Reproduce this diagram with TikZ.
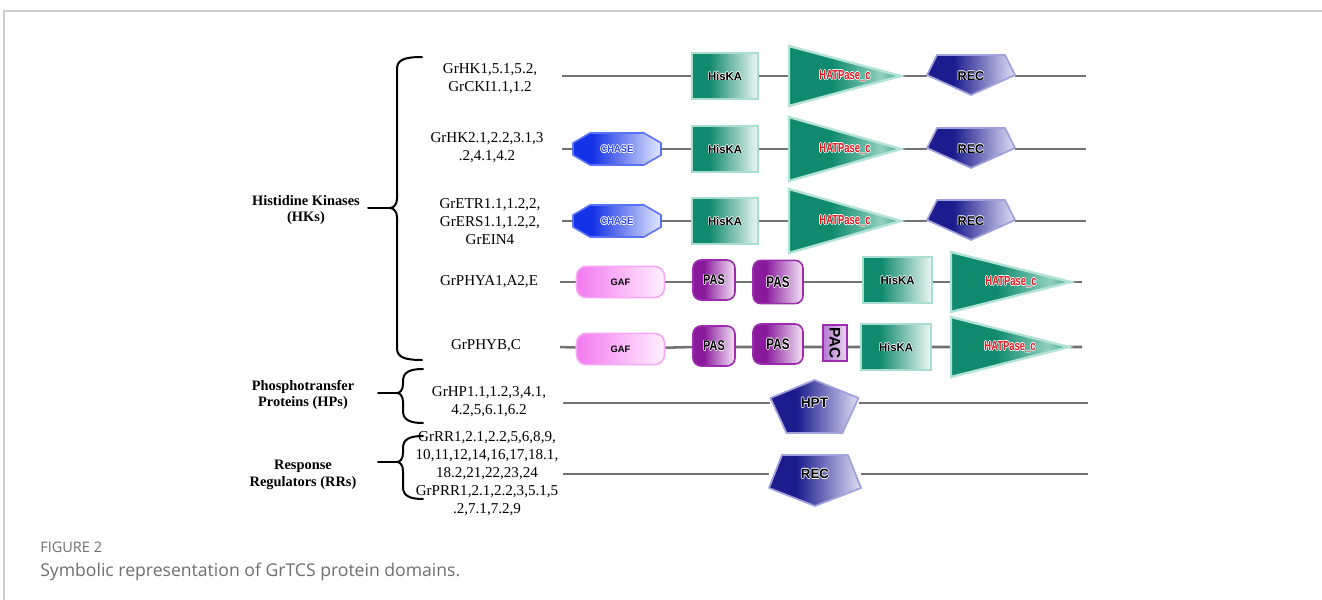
\documentclass[tikz,border=0pt]{standalone}
\usepackage{fontspec}
\setmainfont{Liberation Serif}
\setsansfont{Liberation Sans}
\newfontfamily\capfont{Open Sans}
\usepackage{graphicx}

% domain colours
\definecolor{hkteal}{HTML}{0F8A6E}
\definecolor{hkpale}{HTML}{A8DDCF}
\definecolor{hkwhite}{HTML}{EEF8F5}
\definecolor{hatlight}{HTML}{8FD0BE}
\definecolor{hatmid}{HTML}{4AA88E}
\definecolor{hatpale}{HTML}{B4E2D6}
\definecolor{recnavy}{HTML}{1C1C8E}
\definecolor{reclight}{HTML}{DEDEF5}
\definecolor{recedge}{HTML}{A0A0DA}
\definecolor{chblue}{HTML}{1432E6}
\definecolor{chlight}{HTML}{E4E8FC}
\definecolor{chedge}{HTML}{5B72F2}
\definecolor{chtext}{HTML}{2E46EE}
\definecolor{gafpink}{HTML}{F27AF0}
\definecolor{gaflight}{HTML}{FFF0FF}
\definecolor{gafedge}{HTML}{F6A6F4}
\definecolor{paspurple}{HTML}{8A1A9C}
\definecolor{paslight}{HTML}{F4E6F7}
\definecolor{pasedge}{HTML}{9B2CAE}
\definecolor{pacdark}{HTML}{B57AD0}
\definecolor{paclight}{HTML}{EBD7F2}
\definecolor{hatred}{HTML}{E8141C}
\definecolor{conngray}{HTML}{727272}
\definecolor{framegray}{HTML}{CCCCCC}
\definecolor{capgray}{HTML}{6E6E6E}

% left-to-right gradients (25bp..75bp spans the filled shape)
\pgfdeclarehorizontalshading{hkshade}{100bp}{color(0bp)=(hkteal); color(25bp)=(hkteal); color(38bp)=(hkteal); color(75bp)=(hkwhite); color(100bp)=(hkwhite)}
\pgfdeclarehorizontalshading{hatshade}{100bp}{color(0bp)=(hkteal); color(25bp)=(hkteal); color(44bp)=(hkteal); color(66bp)=(hatlight); color(75bp)=(hatmid); color(100bp)=(hatmid)}
\pgfdeclarehorizontalshading{recshade}{100bp}{color(0bp)=(recnavy); color(25bp)=(recnavy); color(40bp)=(recnavy); color(75bp)=(reclight); color(100bp)=(reclight)}
\pgfdeclarehorizontalshading{chshade}{100bp}{color(0bp)=(chblue); color(25bp)=(chblue); color(36bp)=(chblue); color(75bp)=(chlight); color(100bp)=(chlight)}
\pgfdeclarehorizontalshading{gafshade}{100bp}{color(0bp)=(gafpink); color(25bp)=(gafpink); color(75bp)=(gaflight); color(100bp)=(gaflight)}
\pgfdeclarehorizontalshading{passhade}{100bp}{color(0bp)=(paspurple); color(25bp)=(paspurple); color(38bp)=(paspurple); color(75bp)=(paslight); color(100bp)=(paslight)}
\pgfdeclarehorizontalshading{pacshade}{100bp}{color(0bp)=(pacdark); color(25bp)=(pacdark); color(75bp)=(paclight); color(100bp)=(paclight)}

% text with a thin white outline, as used on the domain labels
\newcommand\halo[1]{%
  \makebox[0pt][l]{\color{white}\hspace{0.55pt}#1}%
  \makebox[0pt][l]{\color{white}\hspace{-0.55pt}#1}%
  \makebox[0pt][l]{\color{white}\raisebox{0.55pt}{#1}}%
  \makebox[0pt][l]{\color{white}\raisebox{-0.55pt}{#1}}%
  #1}

\pgfdeclarelayer{bg}
\pgfsetlayers{bg,main}

\tikzset{
  conn/.style={draw=conngray, line width=1.9pt},
  bracestroke/.style={draw=black, line width=1.5pt, line cap=round},
  prot/.style={align=center, inner sep=0pt, font=\fontsize{11.3}{13.5}\selectfont},
  grp/.style={align=center, inner sep=0pt, font=\bfseries\fontsize{10.8}{12.6}\selectfont},
  dom/.style={inner sep=0pt, font=\sffamily\bfseries},
  hiska/.style={dom, rectangle, shade, shading=hkshade, draw=hkpale, line width=1.3pt,
    minimum width=50pt, minimum height=34pt, font=\sffamily\bfseries\fontsize{8.5}{10}\selectfont},
  gafbox/.style={dom, rectangle, rounded corners=7.5pt, shade, shading=gafshade, draw=gafedge,
    line width=1.2pt, minimum width=66pt, minimum height=23.5pt, font=\sffamily\bfseries\fontsize{7}{8}\selectfont},
  pasbox/.style={dom, rectangle, rounded corners=6pt, shade, shading=passhade, draw=pasedge,
    line width=1.2pt},
  pacbox/.style={dom, rectangle, shade, shading=pacshade, draw=pasedge, line width=1pt,
    minimum width=18pt, minimum height=27pt, font=\sffamily\bfseries\fontsize{11.5}{12}\selectfont},
  labelonly/.style={dom, rectangle},
}

% HATPase_c: triangle pointing right; name, left x, apex x, y, half height
\newcommand\hatpase[5]{%
  \shadedraw[shading=hatshade, draw=hatpale, line width=1.8pt]
    (#2,#4-#5) -- (#3,#4) -- (#2,#4+#5) -- cycle;
  \node[labelonly, minimum width={(#3-#2)*0.75pt}, minimum height={2*#5*0.75pt},
    text=hatred, font=\sffamily\bfseries\fontsize{9.8}{10}\selectfont]
    (#1) at ({(#2+#3)/2},#4) {\halo{\scalebox{0.72}[1]{HATPase\_c}}\hspace{24pt}};}

% REC (rows of the kinases): name, x, y
\newcommand\recsmall[3]{%
  \shadedraw[shading=recshade, draw=recedge, line width=1.3pt, line join=round]
    (#2-34,#3-21) -- (#2+34,#3-21) -- (#2+44,#3-1) -- (#2,#3+19) -- (#2-44,#3-1) -- cycle;
  \node[labelonly, minimum width=66pt, minimum height=30pt,
    font=\sffamily\bfseries\fontsize{9.5}{10}\selectfont] (#1) at (#2,#3) {\raisebox{0.8pt}{\halo{REC}}};}

% REC of the response regulators: name, x, y
\newcommand\recbig[3]{%
  \shadedraw[shading=recshade, draw=recedge, line width=1.3pt, line join=round]
    (#2-33,#3-19) -- (#2+33,#3-19) -- (#2+46,#3+14) -- (#2,#3+32) -- (#2-46,#3+14) -- cycle;
  \node[labelonly, minimum width=69pt, minimum height=38pt,
    font=\sffamily\bfseries\fontsize{10}{10}\selectfont] (#1) at (#2,#3) {\raisebox{-4.5pt}{\halo{REC}}};}

% HPT: pentagon pointing up; name, x, y
\newcommand\hptdom[3]{%
  \shadedraw[shading=recshade, draw=recedge, line width=1.3pt, line join=round]
    (#2,#3-23) -- (#2+44,#3-5) -- (#2+28,#3+30) -- (#2-28,#3+30) -- (#2-44,#3-5) -- cycle;
  \node[labelonly, minimum width=66pt, minimum height=38pt,
    font=\sffamily\bfseries\fontsize{10.3}{10}\selectfont] (#1) at (#2,#3) {\raisebox{-2pt}{\halo{HPT}}};}

% CHASE: elongated octagon; name, x, y
\newcommand\chase[3]{%
  \shadedraw[shading=chshade, draw=chedge, line width=1.2pt, line join=round]
    (#2-44,#3-6) -- (#2-27,#3-16) -- (#2+27,#3-16) -- (#2+44,#3-6) --
    (#2+44,#3+6) -- (#2+27,#3+16) -- (#2-27,#3+16) -- (#2-44,#3+6) -- cycle;
  \node[labelonly, minimum width=66pt, minimum height=24pt, text=chtext,
    font=\sffamily\bfseries\fontsize{7.4}{8}\selectfont] (#1) at (#2,#3) {\halo{\scalebox{0.95}[1]{CHASE}}};}

% curly brace opening to the right: end x, body x, tip x, top, middle, bottom
\newcommand\groupbrace[6]{%
  \draw[bracestroke] (#1,#4) .. controls (#2+7,#4) and (#2,#4+3) .. (#2,#4+12)
    -- (#2,#5-9) .. controls (#2,#5-3) and (#3+3,#5) .. (#3,#5)
    .. controls (#3+3,#5) and (#2,#5+3) .. (#2,#5+9)
    -- (#2,#6-12) .. controls (#2,#6-3) and (#2+7,#6) .. (#1,#6);}

\begin{document}
\begin{tikzpicture}[x=0.75pt, y=-0.75pt]
\useasboundingbox (0,0) rectangle (1322,600);

% frame of the figure panel
\draw[framegray, line width=0.8pt] (4,600) -- (4,11) -- (1322,11);

% ---------- family labels and braces ----------
\node[grp] (ghk) at (306,210) {Histidine Kinases\\(HKs)};
\node[grp] (ghp) at (303,395) {Phosphotransfer\\Proteins (HPs)};
\node[grp] (grr) at (303,475) {Response\\Regulators (RRs)};

\groupbrace{422}{397}{390}{57}{208}{360}
\groupbrace{423}{403}{397}{369}{393}{423}
\groupbrace{423}{403}{397}{436}{462}{499}

\coordinate (hks) at (368,208);  \coordinate (hkt) at (390,208);
\coordinate (hps) at (378,393);  \coordinate (hpt) at (397,393);
\coordinate (rrs) at (378,462);  \coordinate (rrt) at (397,462);
\draw[bracestroke] (hks) -- (hkt);
\draw[bracestroke] (hps) -- (hpt);
\draw[bracestroke] (rrs) -- (rrt);

% ---------- gene names ----------
\node[prot] (n1) at (490,79)  {GrHK1,5.1,5.2,\\GrCKI1.1,1.2};
\node[prot] (n2) at (487,148) {GrHK2.1,2.2,3.1,3\\.2,4.1,4.2};
\node[prot] (n3) at (490,222) {GrETR1.1,1.2,2,\\GrERS1.1,1.2,2,\\GrEIN4};
\node[prot] (n4) at (489,282) {GrPHYA1,A2,E};
\node[prot] (n5) at (486,346) {GrPHYB,C};
\node[prot] (n6) at (489,402) {GrHP1.1,1.2,3,4.1,\\4.2,5,6.1,6.2};
\node[prot] (n7) at (487,474) {GrRR1,2.1,2.2,5,6,8,9,\\10,11,12,14,16,17,18.1,\\18.2,21,22,23,24\\GrPRR1,2.1,2.2,3,5.1,5\\.2,7.1,7.2,9};

% ---------- row 1 ----------
\node[hiska] (hk1) at (725,76) {\halo{HisKA}};
\hatpase{hp1}{789}{901}{76}{30}
\recsmall{rc1}{971}{76}
\coordinate (a1) at (562,76); \coordinate (b1) at (1086,76);

% ---------- row 2 ----------
\chase{ch2}{617}{149}
\node[hiska] (hk2) at (725,149) {\halo{HisKA}};
\hatpase{hp2}{789}{901}{149}{32}
\recsmall{rc2}{971}{149}
\coordinate (a2) at (562,149); \coordinate (b2) at (1086,149);

% ---------- row 3 ----------
\chase{ch3}{617}{221}
\node[hiska] (hk3) at (725,221) {\halo{HisKA}};
\hatpase{hp3}{789}{901}{221}{32}
\recsmall{rc3}{971}{221}
\coordinate (a3) at (562,221); \coordinate (b3) at (1086,221);

% ---------- row 4 ----------
\node[gafbox] (gf4) at (620.5,282) {GAF};
\node[pasbox, minimum width=31.5pt, minimum height=30pt,
  font=\sffamily\bfseries\fontsize{10.5}{11}\selectfont] (pa4) at (714,280) {\halo{\scalebox{0.78}[1]{PAS}}};
\node[pasbox, minimum width=37.5pt, minimum height=32.5pt,
  font=\sffamily\bfseries\fontsize{11.5}{12}\selectfont] (pb4) at (778,282) {\halo{\scalebox{0.76}[1]{PAS}}};
\node[hiska, minimum width=52pt, minimum height=35pt] (hk4) at (897.5,280) {\halo{HisKA}};
\hatpase{hp4}{951}{1071}{282}{30}
\coordinate (a4) at (560,282); \coordinate (b4) at (1082,282);

% ---------- row 5 ----------
\node[gafbox] (gf5) at (620.5,349) {GAF};
\node[pasbox, minimum width=31.5pt, minimum height=30pt,
  font=\sffamily\bfseries\fontsize{10.5}{11}\selectfont] (pa5) at (714,346) {\halo{\scalebox{0.78}[1]{PAS}}};
\node[pasbox, minimum width=37.5pt, minimum height=30pt,
  font=\sffamily\bfseries\fontsize{11.5}{12}\selectfont] (pb5) at (778,344) {\halo{\scalebox{0.76}[1]{PAS}}};
\node[pacbox] (pc5) at (835,343) {\rotatebox{-90}{PAC}};
\node[hiska, minimum width=52pt, minimum height=34pt] (hk5) at (896,347) {\halo{HisKA}};
\hatpase{hp5}{951}{1069}{347}{30}
\coordinate (a5) at (560,347); \coordinate (b5) at (1082,347);

% ---------- row 6 ----------
\hptdom{hp6}{814.5}{403}
\coordinate (a6) at (563,403); \coordinate (b6) at (1088,403);

% ---------- row 7 ----------
\recbig{rc7}{815}{474}
\coordinate (a7) at (563,474); \coordinate (b7) at (1088,474);

% ---------- protein backbones ----------
\begin{pgfonlayer}{bg}
\draw[conn] (a1) -- (hk1) (hk1) -- (hp1) (hp1) -- (rc1) (rc1) -- (b1);
\draw[conn] (a2) -- (ch2) (ch2) -- (hk2) (hk2) -- (hp2) (hp2) -- (rc2) (rc2) -- (b2);
\draw[conn] (a3) -- (ch3) (ch3) -- (hk3) (hk3) -- (hp3) (hp3) -- (rc3) (rc3) -- (b3);
\draw[conn] (a4) -- (gf4) (gf4) -- (a4 -| pa4.west) (a4 -| pa4.east) -- (a4 -| pb4.west)
  (a4 -| pb4.east) -- (a4 -| hk4.west) (a4 -| hk4.east) -- (hp4) (hp4) -- (b4);
\draw[conn] (a5) -- (gf5) (gf5) -- (a5 -| pa5.west) (a5 -| pa5.east) -- (a5 -| pb5.west)
  (a5 -| pb5.east) -- (a5 -| pc5.west) (a5 -| pc5.east) -- (hk5) (hk5) -- (hp5) (hp5) -- (b5);
\draw[conn] (a6) -- (hp6) (hp6) -- (b6);
\draw[conn] (a7) -- (rc7) (rc7) -- (b7);
\end{pgfonlayer}

% ---------- caption ----------
\node[anchor=west, inner sep=0pt, text=capgray,
  font=\capfont\fontsize{10.9}{12}\selectfont] (cap1) at (40,547) {FIGURE 2};
\node[anchor=west, inner sep=0pt, text=capgray,
  font=\capfont\fontsize{13.2}{15}\selectfont] (cap2) at (40,572) {Symbolic representation of GrTCS protein domains.};
\end{tikzpicture}
\end{document}
